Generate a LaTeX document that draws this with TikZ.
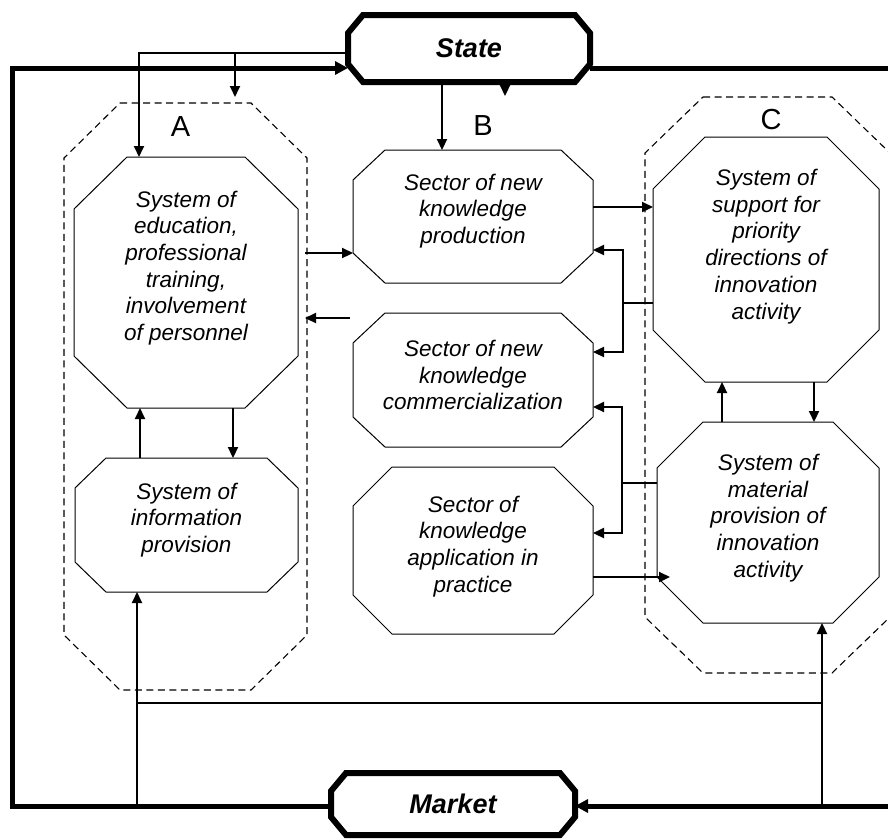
\documentclass[tikz,border=0pt]{standalone}
\usepackage{fontspec}
\setmainfont{Liberation Sans}
\usetikzlibrary{arrows.meta,calc}
\newcommand\octpath[3]{($(#1.north west)+(#2,0)$) -- ($(#1.north east)+(-#2,0)$) -- ($(#1.north east)+(0,#3)$) -- ($(#1.south east)+(0,-#3)$) -- ($(#1.south east)+(-#2,0)$) -- ($(#1.south west)+(#2,0)$) -- ($(#1.south west)+(0,-#3)$) -- ($(#1.north west)+(0,#3)$) -- cycle}
\begin{document}
\begin{tikzpicture}[x=1pt,y=-1pt,
 area/.style={rectangle, draw=none, outer sep=0pt, inner sep=0pt},
 octline/.style={line width=1pt, line join=miter},
 grpline/.style={draw=black, dash pattern=on 7pt off 4.5pt, line width=1.1pt},
 hubline/.style={line width=6pt, line join=miter},
 hub/.style={area, font=\bfseries\itshape\fontsize{27}{30}\selectfont},
 txt/.style={align=center, inner sep=0pt, font=\itshape\fontsize{22.5}{26.7}\selectfont},
 lbl/.style={inner sep=0pt, font=\fontsize{29}{32}\selectfont},
 arr/.style={line width=2.2pt, -{Triangle[length=11pt,width=10pt]}},
 thinarr/.style={line width=1.8pt, -{Triangle[length=11pt,width=10pt]}},
 conn/.style={line width=2.2pt},
 frarr/.style={line width=5pt, -{Triangle[length=13pt,width=13pt]}},
]
\useasboundingbox (0,0) rectangle (888,839);

% groups
\node[area, minimum width=243pt, minimum height=587pt] (A) at (185.5,396.5) {};
\node[area, minimum width=245pt, minimum height=576pt] (C) at (767.5,385) {};
\draw[grpline] \octpath{A}{56}{55};
\draw[grpline] \octpath{C}{58}{56};

% boxes
\node[area, minimum width=224pt, minimum height=251pt] (edu) at (186,282.5) {};
\node[area, minimum width=223pt, minimum height=134pt] (info) at (186.5,525) {};
\node[area, minimum width=240pt, minimum height=133pt] (prod) at (473,216.5) {};
\node[area, minimum width=240pt, minimum height=134pt] (comm) at (473,380) {};
\node[area, minimum width=240pt, minimum height=167pt] (appl) at (473,550.5) {};
\node[area, minimum width=226pt, minimum height=245pt] (supp) at (766,259.5) {};
\node[area, minimum width=222pt, minimum height=201pt] (mat) at (768,522.5) {};
\draw[octline] \octpath{edu}{53}{52};
\draw[octline] \octpath{info}{31}{30};
\draw[octline] \octpath{prod}{32}{30};
\draw[octline] \octpath{comm}{32}{30};
\draw[octline] \octpath{appl}{39}{39};
\draw[octline] \octpath{supp}{52}{52};
\draw[octline] \octpath{mat}{46}{46};

% texts
\node[txt] (eduT) at ([yshift=14.5pt]edu.center) {System of\\education,\\professional\\training,\\involvement\\of personnel};
\node[txt] (infoT) at ([yshift=5pt]info.center) {System of\\information\\provision};
\node[txt] (prodT) at ([yshift=5.5pt]prod.center) {Sector of new\\knowledge\\production};
\node[txt] (commT) at ([yshift=5pt]comm.center) {Sector of new\\knowledge\\commercialization};
\node[txt] (applT) at ([yshift=4pt]appl.center) {Sector of\\knowledge\\application in\\practice};
\node[txt] (suppT) at ([yshift=13pt]supp.center) {System of\\support for\\priority\\directions of\\innovation\\activity};
\node[txt] (matT) at ([yshift=4.5pt]mat.center) {System of\\material\\provision of\\innovation\\activity};

% labels
\node[lbl] (la) at (180.5,127) {A};
\node[lbl] (lb) at (483,126) {B};
\node[lbl] (lc) at (771,120) {C};

% hubs
\node[hub, minimum width=242pt, minimum height=67pt] (State) at (469,48.5) {State};
\node[hub, minimum width=244pt, minimum height=62pt] (Market) at (453,804) {Market};
\draw[hubline] \octpath{State}{15}{18};
\draw[hubline] \octpath{Market}{15}{18};

% frame
\coordinate (fl) at (12,0);
\coordinate (fr) at (893,0);
\coordinate (sL) at ([yshift=-19.5pt]State.west);
\coordinate (sR) at ([yshift=-19.5pt]State.east);
\coordinate (mL) at ([yshift=-2pt]Market.west);
\coordinate (mR) at ([yshift=-2pt]Market.east);
\draw[frarr] (mL) -- (mL -| fl) -- (sL -| fl) -- (sL);
\draw[frarr] (sR) -- (sR -| fr) -- (mR -| fr) -- (mR);

% thin lines from State
\coordinate (t0) at ([yshift=-4.5pt]State.west);
\coordinate (tA) at ([xshift=-47pt]edu.north);
\coordinate (tB) at ([xshift=49.5pt,yshift=6pt]A.north);
\draw[thinarr] (t0) -- (t0 -| tA) -- (tA);
\draw[thinarr] (t0 -| tB) -- (tB);

% State down
\coordinate (pN) at ([xshift=-31pt]prod.north);
\draw[arr] (pN |- State.south) -- (pN);
\coordinate (sS0) at ([xshift=36pt]State.south);
\draw[arr] (sS0) -- ([yshift=-14pt]sS0);

% A <-> B
\coordinate (Ae) at ([xshift=-2pt]A.east);
\coordinate (pW) at ([yshift=-36.5pt]prod.west);
\draw[arr] (Ae |- pW) -- (pW);
\coordinate (cW) at ([yshift=-5pt]comm.north -| comm.west);
\coordinate (cW0) at ([xshift=-3pt]cW);
\draw[arr] (cW0) -- (Ae |- cW0);

% B -> C
\coordinate (pE) at ([yshift=9.5pt]prod.east);
\draw[arr] (pE) -- (pE -| supp.west);

% bus 1
\coordinate (s1) at ([yshift=-43.5pt]supp.west);
\coordinate (b1) at ([xshift=-30pt]s1);
\coordinate (pE2) at ([yshift=-33.5pt]prod.east);
\coordinate (cE1) at ([yshift=28pt]comm.east);
\draw[conn] (s1) -- (b1);
\draw[arr] (b1) -- (b1 |- pE2) -- (pE2);
\draw[arr] (b1) -- (b1 |- cE1) -- (cE1);

% bus 2
\coordinate (m1) at ([yshift=39.5pt]mat.west);
\coordinate (b2) at ([xshift=-35pt]m1);
\coordinate (cE2) at ([yshift=-27pt]comm.east);
\coordinate (aE1) at ([yshift=17.5pt]appl.east);
\draw[conn] (m1) -- (b2);
\draw[arr] (b2) -- (b2 |- cE2) -- (cE2);
\draw[arr] (b2) -- (b2 |- aE1) -- (aE1);

% appl -> mat
\coordinate (aE2) at ([yshift=-26.5pt]appl.east);
\draw[arr] (aE2) -- ($(aE2 -| mat.west)+(13,0)$);

% supp <-> mat
\coordinate (mN1) at ([xshift=-46pt]mat.north);
\draw[arr] (mN1) -- (mN1 |- supp.south);
\coordinate (sS1) at ([xshift=48pt]supp.south);
\draw[arr] (sS1) -- (sS1 |- mat.north);

% edu <-> info
\coordinate (iN1) at ([xshift=-46.5pt]info.north);
\draw[arr] (iN1) -- (iN1 |- edu.south);
\coordinate (eS1) at ([xshift=47pt]edu.south);
\draw[arr] (eS1) -- (eS1 |- info.north);

% bottom
\coordinate (iS) at ([xshift=-49.5pt]info.south);
\coordinate (mS) at ([xshift=54pt]mat.south);
\draw[arr] (iS |- mL) -- (iS);
\draw[arr] (mS |- mL) -- (mS);
\coordinate (hb) at ($(iS)+(0,111)$);
\draw[conn] (hb) -- (hb -| mS);
\end{tikzpicture}
\end{document}
